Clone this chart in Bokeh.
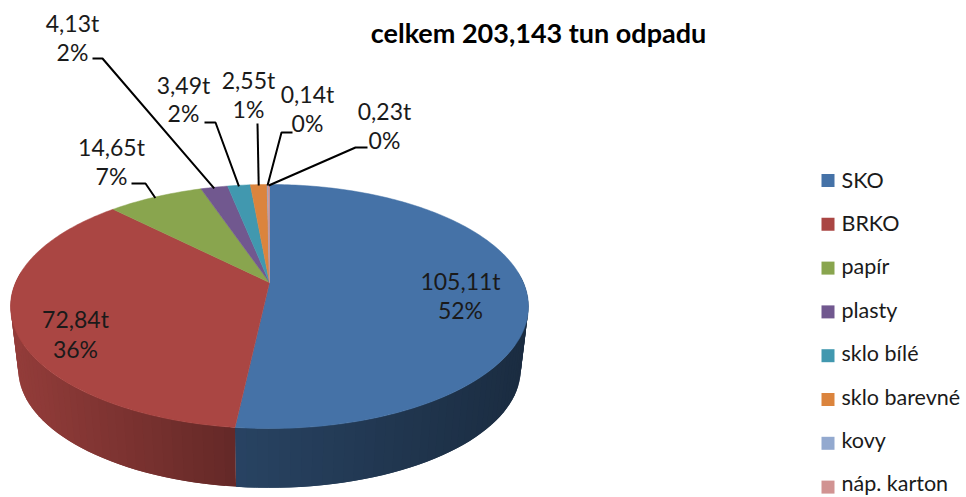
import math
import numpy as np
from bokeh.plotting import figure
from bokeh.models import Range1d
from bokeh.core.properties import value
from bokeh.embed import file_html
from bokeh.resources import INLINE

# ---- data ----
categories = ["SKO", "BRKO", "papír", "plasty", "sklo bílé", "sklo barevné", "kovy", "náp. karton"]
tons = [105.11, 72.84, 14.65, 4.13, 3.49, 2.55, 0.14, 0.23]
colors = ["#4572A7", "#AA4643", "#89A54E", "#71588F", "#4198AF", "#DB843D", "#93A9CF", "#D19392"]
title_text = "celkem 203,143 tun odpadu"

# ---- layout (reference pixels) ----
FONT = "Lato"
CX, APEX_Y = 269.0, 282.0      # where slices meet
PA, PB, PT = 253.9, 117.3, -0.1967  # projective view of the disc
ELL_Y = 306.0                  # visual centre of the top rim
BOT_Y, BOT_S = 369.0, 0.97     # bottom rim: centre and scale

# centre of each label (x, y of the first line, y of the second line)
label_x = [460, 75, 111, 72, 183, 248, 307, 384]
label_y1 = [280, 318, 146, 22, 84, 79, 93, 110]
label_y2 = [309, 348, 175, 51, 112, 108, 122, 139]
# leader lines: start, elbow (None = no leader)
leader_start = [None, None, (131, 183), (92, 58), (204, 122), (257, 123), (292, 132), (367, 147)]
leader_elbow = [None, None, (145, 183), (102, 58), (215, 122), None, (281, 132), (355, 147)]

legend_x, legend_text_x = 827.5, 841
legend_y0, legend_dy = 180, 43.8
legend_text_y0, legend_text_dy = 179, 43.4


def top_point(deg):
    t = math.radians(deg)
    u, v = math.sin(t), -math.cos(t)
    w = 1 + PT * v
    return CX + PA * u / w, APEX_Y + PB * v / w


def bottom_point(deg):
    x, y = top_point(deg)
    return CX + BOT_S * (x - CX), BOT_Y + BOT_S * (y - ELL_Y)


def shade(hexcol, x):
    f = float(np.interp(x, [10, 236, 528], [0.87, 0.59, 0.39]))
    rgb = [int(hexcol[i:i + 2], 16) for i in (1, 3, 5)]
    return "#%02x%02x%02x" % tuple(int(c * f) for c in rgb)


p = figure(width=966, height=497, output_backend="svg", toolbar_location=None,
           x_range=Range1d(0, 966), y_range=Range1d(497, 0),
           min_border=0, outline_line_color=None, background_fill_color="white")
p.axis.visible = False
p.grid.visible = False

total = sum(tons)
edges = np.concatenate([[0.0], np.cumsum(tons)]) / total * 360.0

# side wall, front half only; each strip overlaps the next so no seams show
wx, wy, wc = [], [], []
for i, col in enumerate(colors):
    a0, a1 = max(edges[i], 85.0), min(edges[i + 1], 275.0)
    if a1 <= a0:
        continue
    n = max(2, int((a1 - a0) / 2.0))
    d = np.linspace(a0, a1, n + 1)
    for j in range(n):
        end = d[min(j + 2, n)]
        xa, ya = top_point(d[j])
        xb, yb = top_point(end)
        xc, yc = bottom_point(end)
        xd, yd = bottom_point(d[j])
        wx.append([xa, xb, xc, xd])
        wy.append([ya, yb, yc, yd])
        xm, _ = top_point((d[j] + d[j + 1]) / 2)
        wc.append(shade(col, xm))
p.patches(wx, wy, fill_color=wc, line_color=None)

# top surface
tx, ty = [], []
for i in range(len(tons)):
    n = max(2, int((edges[i + 1] - edges[i]) / 1.0))
    pts = [top_point(d) for d in np.linspace(edges[i], edges[i + 1], n + 1)]
    tx.append([CX] + [q[0] for q in pts])
    ty.append([APEX_Y] + [q[1] for q in pts])
p.patches(tx, ty, fill_color=colors, line_color=colors, line_width=0.5)

# leader lines end on the rim at the middle of their slice
for i in range(len(tons)):
    if leader_start[i] is None:
        continue
    ex, ey = top_point((edges[i] + edges[i + 1]) / 2)
    xs, ys = [leader_start[i][0]], [leader_start[i][1]]
    if leader_elbow[i] is not None:
        xs.append(leader_elbow[i][0])
        ys.append(leader_elbow[i][1])
    xs.append(ex)
    ys.append(ey + 1)
    p.line(xs, ys, line_color="black", line_width=2)

# data labels
line1 = [f"{v:.2f}t".replace(".", ",") for v in tons]
line2 = [f"{round(v / total * 100)}%" for v in tons]
for ys, txt in ((label_y1, line1), (label_y2, line2)):
    p.text(label_x, ys, text=txt, text_font=value(FONT), text_font_size="23px",
           text_color="#1a1a1a", text_align="center", text_baseline="middle")

# title
p.text([538], [31.5], text=[title_text], text_font=value(FONT), text_font_size="27px",
       text_font_style="bold", text_color="black", text_align="center", text_baseline="middle")

# legend
ly = [legend_y0 + i * legend_dy for i in range(len(categories))]
lty = [legend_text_y0 + i * legend_text_dy for i in range(len(categories))]
p.rect([legend_x] * len(ly), ly, width=13, height=13, fill_color=colors, line_color=None)
p.text([legend_text_x] * len(lty), lty, text=categories, text_font=value(FONT), text_font_size="21.5px",
       text_color="#1a1a1a", text_align="left", text_baseline="middle")

open("out.html", "w").write(file_html(p, INLINE))
